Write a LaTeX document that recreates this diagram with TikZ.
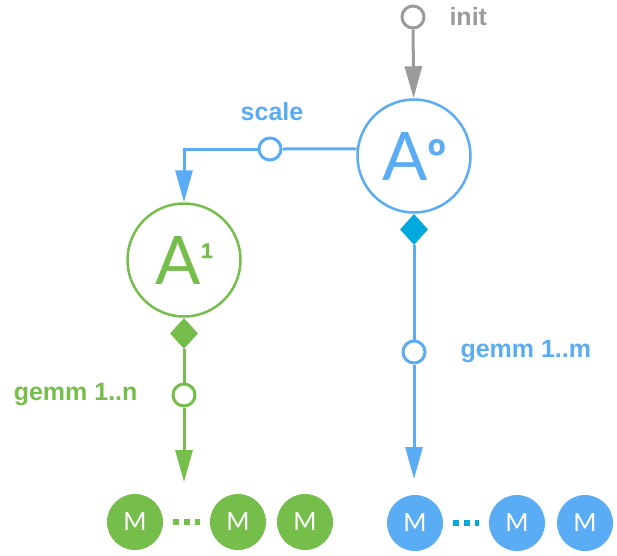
\documentclass[tikz,border=0pt]{standalone}
\usepackage{fontspec}
\setmainfont{Liberation Sans}
\newfontfamily\latofont{Lato}
\newfontfamily\idxfont{Liberation Sans Bold}[FakeBold=2]
\usetikzlibrary{arrows.meta,shapes.geometric}
\definecolor{skyblue}{RGB}{90,172,245}
\definecolor{leafgreen}{RGB}{118,190,75}
\definecolor{initgray}{RGB}{155,155,155}
\definecolor{forkcyan}{RGB}{0,170,222}
\tikzset{
  port/.style={circle,draw,fill=white,line width=3pt,minimum size=22pt,inner sep=0pt},
  tensor/.style={circle,draw,line width=2.5pt,minimum size=113pt,inner sep=0pt,
    font=\latofont\fontsize{67}{67}\selectfont},
  mnode/.style={circle,minimum size=56pt,inner sep=0pt,text=white,
    font=\latofont\fontsize{25}{25}\selectfont},
  fork/.style={diamond,inner sep=0pt,minimum width=28pt,minimum height=31pt},
  wire/.style={line width=3pt},
  flow/.style={wire,-{Triangle[length=32pt,width=17pt]}},
  tag/.style={font=\bfseries\fontsize{25}{25}\selectfont},
  gap/.style={line width=6pt,dash pattern=on 6pt off 5pt}
}
% superscript: kern, raise, size, text
\newcommand{\upidx}[4]{\kern#1\raisebox{#2}{\idxfont\fontsize{#3}{#3}\selectfont #4}}
\begin{document}
\begin{tikzpicture}[x=1pt,y=-1pt]
\useasboundingbox (0,0) rectangle (617,555);
\node[port,draw=initgray] (init) at (413,17) {};
\node[tag,text=initgray,anchor=west] (initlabel) at (446,17) {init};
\node[tensor,draw=skyblue,text=skyblue] (A0) at (414,156) {A\upidx{0pt}{25pt}{29pt}{o}};
\node[port,draw=skyblue] (scale) at (270,149) {};
\node[tag,text=skyblue] (scalelabel) at (272,112) {scale};
\node[tensor,draw=leafgreen,text=leafgreen] (A1) at (184,260) {A\upidx{0.5pt}{26pt}{21pt}{1}};
\draw[flow,initgray] (init) -- (A0);
\draw[wire,skyblue] (A0.173) -- (scale);
\draw[flow,skyblue] (scale) -| (A1);
% right branch
\node[fork,fill=forkcyan,anchor=north] (fork0) at (A0.south) {};
\node[port,draw=skyblue] (gemm0) at (414,352) {};
\node[tag,text=skyblue,anchor=west] (gemm0label) at (457,352) {gemm 1..m};
\coordinate (tip0) at (414,479);
\draw[wire,skyblue] (fork0) -- (gemm0);
\draw[flow,skyblue] (gemm0) -- (tip0);
% left branch
\node[fork,fill=leafgreen,anchor=north] (fork1) at (A1.south) {};
\node[port,draw=leafgreen] (gemm1) at (184,395) {};
\node[tag,text=leafgreen,anchor=east] (gemm1label) at (141,395) {gemm 1..n};
\coordinate (tip1) at (184,482);
\draw[wire,leafgreen] (fork1) -- (gemm1);
\draw[flow,leafgreen] (gemm1) -- (tip1);
% matrices
\foreach \x [count=\i] in {135,238,305}
	\node[mnode,fill=leafgreen] (Mg\i) at (\x,522) {M};
\foreach \x [count=\i] in {415,517,585}
	\node[mnode,fill=skyblue] (Mb\i) at (\x,523) {M};
\draw[gap,leafgreen] ([xshift=10pt]Mg1.east) -- ([xshift=-10pt]Mg2.west);
\draw[gap,forkcyan] ([xshift=10pt]Mb1.east) -- ([xshift=-10pt]Mb2.west);
\end{tikzpicture}
\end{document}
